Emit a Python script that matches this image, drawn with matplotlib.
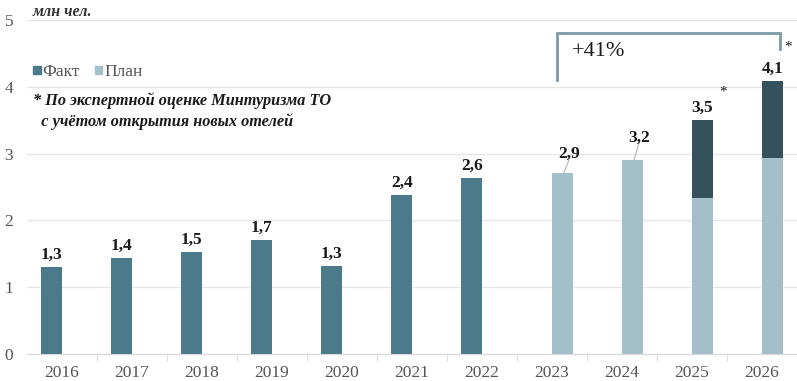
import numpy as np
from matplotlib import pyplot as plt
from matplotlib.patches import Rectangle

## data
years = ["2016", "2017", "2018", "2019", "2020", "2021", "2022", "2023", "2024", "2025", "2026"]
fact = [1.3, 1.44, 1.52, 1.7, 1.31, 2.38, 2.64, 0, 0, 0, 0]
plan = [0, 0, 0, 0, 0, 0, 0, 2.71, 2.9, 2.34, 2.93]
extra = [0, 0, 0, 0, 0, 0, 0, 0, 0, 1.16, 1.15]
labels = ["1,3", "1,4", "1,5", "1,7", "1,3", "2,4", "2,6", "2,9", "3,2", "3,5", "4,1"]
label_pos = [None] * 7 + [2.87, 3.12, None, None]
star_x = [9.44, 10.37]
star_y = [3.92, 4.6]

c_fact = "#4b7b8b"
c_plan = "#a3bfca"
c_dark = "#33525d"
c_grid = "#e6e6e6"
c_txt = "#555555"

plt.rcParams["font.family"] = ["Liberation Serif", "DejaVu Serif"]

fig = plt.figure(figsize=(7.97, 3.81), dpi=100)
ax = fig.add_axes([0.0339, 0.0709, 0.966, 0.8766])

x = np.arange(len(years))
w = 0.3
xf = x - 0.145   # fact series sits left in each category
xp = x + 0.15    # plan series sits right
ax.bar(xf, fact, w, color=c_fact, zorder=3)
ax.bar(xp, plan, w, color=c_plan, zorder=3)
ax.bar(xp, extra, w, bottom=plan, color=c_dark, zorder=3)

for i in range(len(years)):
    if fact[i] > 0:
        xc, top = xf[i], fact[i]
    else:
        xc, top = xp[i], plan[i] + extra[i]
    if label_pos[i] is None:
        ax.annotate(labels[i], (xc, top), xytext=(0, 3), textcoords="offset points",
                    ha="center", va="bottom", fontsize=12.5, fontweight="bold", color="#1a1a1a", zorder=5)
    else:
        ax.text(xc + 0.1, label_pos[i], labels[i], ha="center", va="bottom",
                fontsize=12.5, fontweight="bold", color="#1a1a1a", zorder=5)
        ax.plot([xc + 0.02, xc + 0.09], [top, label_pos[i] + 0.03], color="#b5b5b5", lw=0.8, zorder=4)

for sx, sy in zip(star_x, star_y):
    ax.text(sx, sy, "*", ha="center", va="center", fontsize=11, color="#1a1a1a")

ax.set_xlim(-0.5, 10.5)
ax.set_ylim(0, 5)
ax.set_yticks(range(6))
ax.yaxis.grid(True, color=c_grid, lw=1, zorder=0)
ax.set_xticks(x)
ax.set_xticklabels(years)
ax.set_xticks(x[:-1] + 0.5, minor=True)
ax.tick_params(axis="x", which="major", length=0, labelsize=12.5, labelcolor=c_txt, pad=8)
ax.tick_params(axis="x", which="minor", length=5, color="#d9d9d9")
ax.tick_params(axis="y", length=0, labelsize=12.5, labelcolor=c_txt, pad=10)
for s in ["top", "right", "left"]:
    ax.spines[s].set_visible(False)
ax.spines["bottom"].set_color("#d9d9d9")

## bracket +41%
bc = "#7b9ca7"
ax.plot([7.07, 7.07, 10.26, 10.26], [4.1, 4.8, 4.8, 4.57], color=bc, lw=2, zorder=4,
        solid_joinstyle="miter")
ax.text(7.28, 4.53, "+41%", fontsize=16, color="#1a1a1a", va="center", ha="left")

## unit, legend, note
fig.text(0.041, 0.968, "млн чел.", fontsize=11.5, style="italic", fontweight="bold", color="#333333", va="center")
fig.add_artist(Rectangle((0.0414, 0.806), 0.0095, 0.021, transform=fig.transFigure, color=c_fact))
fig.text(0.053, 0.812, "Факт", fontsize=12.5, color=c_txt, va="center")
fig.add_artist(Rectangle((0.119, 0.806), 0.0095, 0.021, transform=fig.transFigure, color=c_plan))
fig.text(0.131, 0.812, "План", fontsize=12.5, color=c_txt, va="center")
fig.text(0.042, 0.709, "* По экспертной оценке Минтуризма ТО\n  с учётом открытия новых отелей",
         fontsize=11.7, style="italic", fontweight="bold", color="#1a1a1a", va="center", linespacing=1.35)

fig.savefig("out.png", dpi=100, facecolor="white")
